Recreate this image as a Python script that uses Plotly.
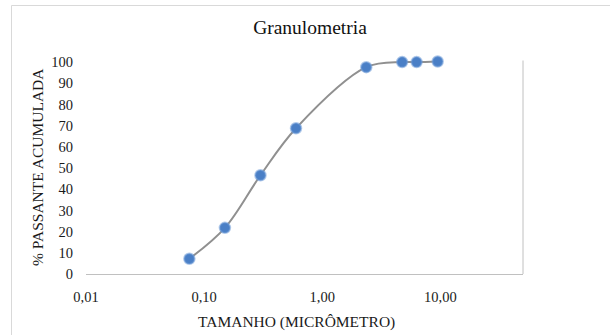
import plotly.graph_objects as go

# Data
sizes = [0.075, 0.15, 0.3, 0.6, 2.36, 4.75, 6.3, 9.5]
passing = [7.2, 21.8, 46.6, 68.8, 97.6, 100.0, 100.0, 100.3]
x_tickvals = [0.01, 0.1, 1, 10]
x_ticktext = ["0,01", "0,10", "1,00", "10,00"]
y_tickvals = [0, 10, 20, 30, 40, 50, 60, 70, 80, 90, 100]

W, H = 610, 335
ML, MR, MT, MB = 86, 87, 60, 61
pw, ph = W - ML - MR, H - MT - MB

def px_x(p):
    return (p - ML) / pw

def px_y(p):
    return (H - MB - p) / ph

FONT = "Liberation Serif"

fig = go.Figure()
fig.add_trace(go.Scatter(
    x=sizes, y=passing, mode="lines+markers",
    line=dict(color="#909090", width=2, shape="spline", smoothing=1.0),
    marker=dict(size=10.5, color="#4a7fc6",
                line=dict(color="rgba(110,155,215,0.55)", width=2)),
    cliponaxis=False, showlegend=False,
))

fig.update_layout(
    width=W, height=H,
    margin=dict(l=ML, r=MR, t=MT, b=MB),
    paper_bgcolor="white", plot_bgcolor="white",
    font=dict(family=FONT, color="#1a1a1a"),
    title=dict(text="Granulometria", x=310 / W, xref="container",
               y=1 - 27 / H, yref="container", xanchor="center",
               yanchor="middle", font=dict(size=19.5, family=FONT, color="#111")),
    xaxis=dict(type="log", range=[-2, 1.70], tickvals=x_tickvals,
               ticktext=x_ticktext, showgrid=False, zeroline=False,
               showline=True, linecolor="#c0c0c0", linewidth=1,
               ticks="", ticklabelstandoff=10, tickfont=dict(size=14.5)),
    yaxis=dict(range=[0, 101], tickvals=y_tickvals, showgrid=False,
               zeroline=False, showline=False, ticks="",
               ticklabelstandoff=12, tickfont=dict(size=14.5)),
    annotations=[
        dict(text="TAMANHO (MICRÔMETRO)", xref="paper", yref="paper",
             x=px_x(296), y=px_y(322), showarrow=False,
             xanchor="center", yanchor="middle",
             font=dict(size=15.5, family=FONT, color="#1a1a1a")),
        dict(text="% PASSANTE ACUMULADA", xref="paper", yref="paper",
             x=px_x(37), y=px_y(167), showarrow=False, textangle=-90,
             xanchor="center", yanchor="middle",
             font=dict(size=15.5, family=FONT, color="#1a1a1a")),
    ],
    shapes=[
        dict(type="line", xref="paper", yref="paper", x0=1, x1=1,
             y0=0, y1=px_y(60.5), line=dict(color="#c0c0c0", width=1)),
        dict(type="line", xref="paper", yref="paper", x0=px_x(11.5), x1=px_x(W + 5),
             y0=px_y(5.5), y1=px_y(5.5), line=dict(color="#d9d9d9", width=1)),
        dict(type="line", xref="paper", yref="paper", x0=px_x(11.5), x1=px_x(11.5),
             y0=px_y(5.5), y1=px_y(H + 5), line=dict(color="#d9d9d9", width=1)),
    ],
)

fig.write_html("out.html", config={"displayModeBar": False},
               post_script="document.body.style.margin='0px';")
